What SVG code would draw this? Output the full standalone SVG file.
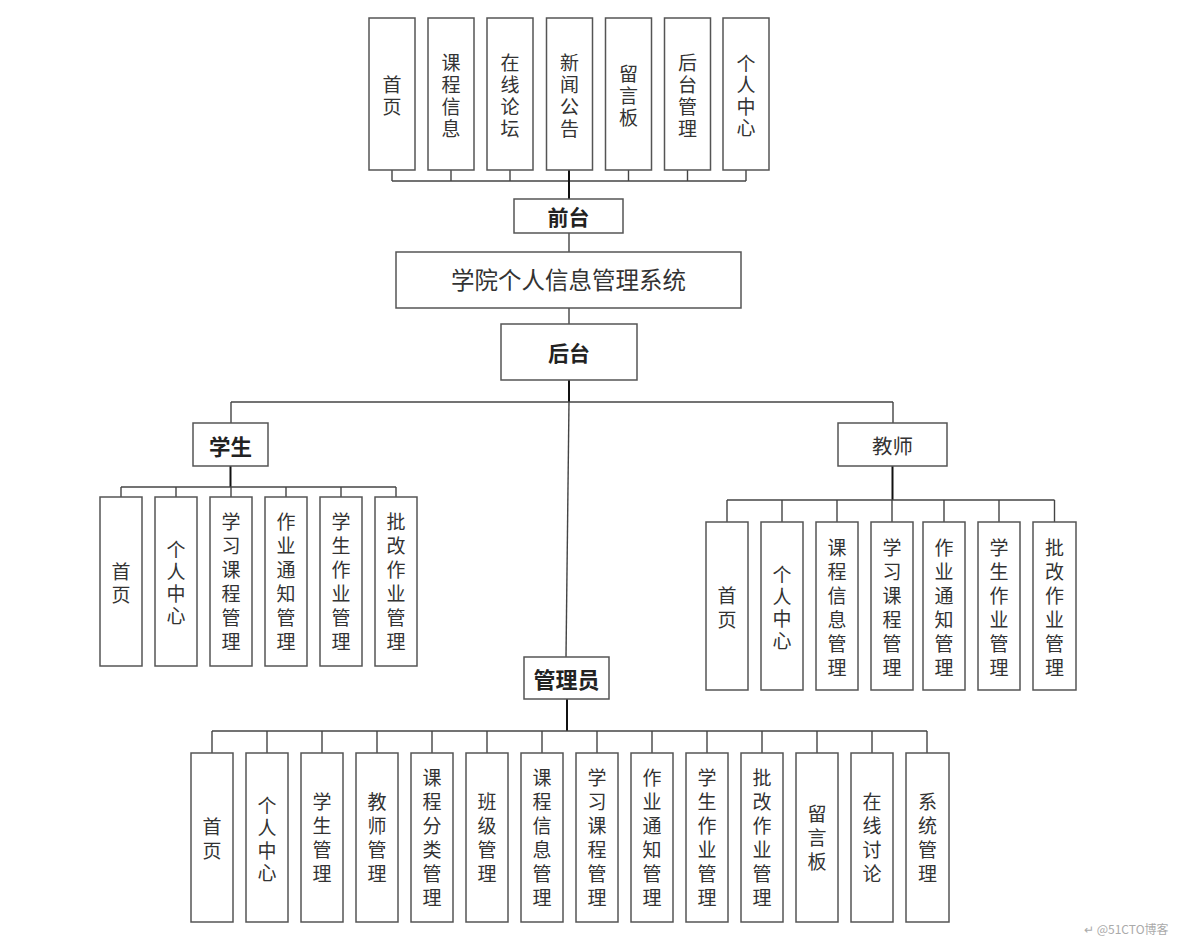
<svg xmlns="http://www.w3.org/2000/svg" width="1184" height="943" viewBox="0 0 1184 943">
<style>
.b{fill:#fff;stroke:#555;stroke-width:1.5}
.t{font-family:"Noto Sans CJK SC","Liberation Sans",sans-serif;fill:#333;text-anchor:middle;dominant-baseline:central}
.s18{font-size:19px}
.s19{font-size:19px}
.s20{font-size:20px}
.s21{font-size:21px}
.bold{font-weight:bold;fill:#222}
.c line{stroke:#444;stroke-width:1.4;fill:none}
.c .k{stroke:#111;stroke-width:2}
.wm{font-family:"Noto Sans CJK SC","Liberation Sans",sans-serif;font-size:12px;fill:#aaa}
</style>
<rect width="1184" height="943" fill="#fff"/>
<g class="c" id="connectors">
<line x1="392" y1="181" x2="746" y2="181"/>
<line x1="392" y1="170" x2="392" y2="181"/>
<line x1="451" y1="170" x2="451" y2="181"/>
<line x1="510" y1="170" x2="510" y2="181"/>
<line x1="628.5" y1="170" x2="628.5" y2="181"/>
<line x1="687.5" y1="170" x2="687.5" y2="181"/>
<line x1="746" y1="170" x2="746" y2="181"/>
<line class="k" x1="569" y1="170" x2="569" y2="199"/>
<line x1="569" y1="233" x2="569" y2="252"/>
<line x1="569" y1="308" x2="569" y2="324"/>
<line class="k" x1="569" y1="380" x2="569" y2="402"/>
<line x1="231" y1="402" x2="893" y2="402"/>
<line x1="231" y1="402" x2="231" y2="423"/>
<line x1="893" y1="402" x2="893" y2="423"/>
<line x1="569" y1="402" x2="566" y2="657"/>
<line class="k" x1="230.5" y1="466" x2="230.5" y2="487"/>
<line x1="121" y1="487" x2="396" y2="487"/>
<line x1="121" y1="487" x2="121" y2="497"/>
<line x1="176" y1="487" x2="176" y2="497"/>
<line x1="231" y1="487" x2="231" y2="497"/>
<line x1="286" y1="487" x2="286" y2="497"/>
<line x1="341" y1="487" x2="341" y2="497"/>
<line x1="396" y1="487" x2="396" y2="497"/>
<line class="k" x1="892.5" y1="466" x2="892.5" y2="500"/>
<line x1="727" y1="500" x2="1054.5" y2="500"/>
<line x1="727" y1="500" x2="727" y2="522"/>
<line x1="782" y1="500" x2="782" y2="522"/>
<line x1="837" y1="500" x2="837" y2="522"/>
<line x1="892" y1="500" x2="892" y2="522"/>
<line x1="944" y1="500" x2="944" y2="522"/>
<line x1="999" y1="500" x2="999" y2="522"/>
<line x1="1054.5" y1="500" x2="1054.5" y2="522"/>
<line class="k" x1="567" y1="699" x2="567" y2="731"/>
<line x1="212" y1="731" x2="927" y2="731"/>
<line x1="212" y1="731" x2="212" y2="753"/>
<line x1="267" y1="731" x2="267" y2="753"/>
<line x1="322" y1="731" x2="322" y2="753"/>
<line x1="377" y1="731" x2="377" y2="753"/>
<line x1="432" y1="731" x2="432" y2="753"/>
<line x1="487" y1="731" x2="487" y2="753"/>
<line x1="542" y1="731" x2="542" y2="753"/>
<line x1="597" y1="731" x2="597" y2="753"/>
<line x1="652" y1="731" x2="652" y2="753"/>
<line x1="707" y1="731" x2="707" y2="753"/>
<line x1="762" y1="731" x2="762" y2="753"/>
<line x1="817" y1="731" x2="817" y2="753"/>
<line x1="872" y1="731" x2="872" y2="753"/>
<line x1="927" y1="731" x2="927" y2="753"/>
</g>

<!-- Top front-end modules -->
<g id="f-home"><rect class="b" x="369" y="18" width="46" height="152"/><text class="t s18"><tspan x="392" y="83">首</tspan><tspan x="392" y="105">页</tspan></text></g>
<g id="f-course"><rect class="b" x="428" y="18" width="46" height="152"/><text class="t s18"><tspan x="451" y="61">课</tspan><tspan x="451" y="83">程</tspan><tspan x="451" y="105">信</tspan><tspan x="451" y="127">息</tspan></text></g>
<g id="f-forum"><rect class="b" x="487" y="18" width="46" height="152"/><text class="t s18"><tspan x="510" y="61">在</tspan><tspan x="510" y="83">线</tspan><tspan x="510" y="105">论</tspan><tspan x="510" y="127">坛</tspan></text></g>
<g id="f-news"><rect class="b" x="546.5" y="18" width="46" height="152"/><text class="t s18"><tspan x="569.5" y="61">新</tspan><tspan x="569.5" y="83">闻</tspan><tspan x="569.5" y="105">公</tspan><tspan x="569.5" y="127">告</tspan></text></g>
<g id="f-msg"><rect class="b" x="605.5" y="18" width="46" height="152"/><text class="t s18"><tspan x="628.5" y="72">留</tspan><tspan x="628.5" y="94">言</tspan><tspan x="628.5" y="116">板</tspan></text></g>
<g id="f-admin"><rect class="b" x="664.5" y="18" width="46" height="152"/><text class="t s18"><tspan x="687.5" y="61">后</tspan><tspan x="687.5" y="83">台</tspan><tspan x="687.5" y="105">管</tspan><tspan x="687.5" y="127">理</tspan></text></g>
<g id="f-center"><rect class="b" x="723" y="18" width="46" height="152"/><text class="t s18"><tspan x="746" y="62">个</tspan><tspan x="746" y="83">人</tspan><tspan x="746" y="105">中</tspan><tspan x="746" y="126">心</tspan></text></g>

<g id="frontend"><rect class="b" x="514" y="199" width="109" height="34"/><text class="t s21 bold" x="568.5" y="216">前台</text></g>
<g id="system"><rect class="b" x="396" y="252" width="345" height="56"/><text class="t" style="font-size:23.5px" x="568.5" y="279">学院个人信息管理系统</text></g>
<g id="backend"><rect class="b" x="501" y="324" width="136" height="56"/><text class="t s21 bold" x="569" y="352">后台</text></g>

<g id="student"><rect class="b" x="193" y="423" width="75" height="43"/><text class="t bold" style="font-size:21.5px" x="230.5" y="445">学生</text></g>
<g id="teacher"><rect class="b" x="838" y="423" width="109" height="43"/><text class="t" style="font-size:20.5px" x="892.5" y="445">教师</text></g>
<g id="admin"><rect class="b" x="524" y="657" width="85" height="42"/><text class="t bold" style="font-size:22px" x="566.5" y="678">管理员</text></g>

<!-- Student modules -->
<g id="s-home"><rect class="b" x="100" y="497" width="42" height="169"/><text class="t s19"><tspan x="121" y="570">首</tspan><tspan x="121" y="593">页</tspan></text></g>
<g id="s-center"><rect class="b" x="155" y="497" width="42" height="169"/><text class="t s19"><tspan x="176" y="548">个</tspan><tspan x="176" y="570">人</tspan><tspan x="176" y="592">中</tspan><tspan x="176" y="614">心</tspan></text></g>
<g id="s-study"><rect class="b" x="210" y="497" width="42" height="169"/><text class="t s19"><tspan x="231" y="520">学</tspan><tspan x="231" y="544">习</tspan><tspan x="231" y="568">课</tspan><tspan x="231" y="592">程</tspan><tspan x="231" y="616">管</tspan><tspan x="231" y="640">理</tspan></text></g>
<g id="s-notice"><rect class="b" x="265" y="497" width="42" height="169"/><text class="t s19"><tspan x="286" y="520">作</tspan><tspan x="286" y="544">业</tspan><tspan x="286" y="568">通</tspan><tspan x="286" y="592">知</tspan><tspan x="286" y="616">管</tspan><tspan x="286" y="640">理</tspan></text></g>
<g id="s-hw"><rect class="b" x="320" y="497" width="42" height="169"/><text class="t s19"><tspan x="341" y="520">学</tspan><tspan x="341" y="544">生</tspan><tspan x="341" y="568">作</tspan><tspan x="341" y="592">业</tspan><tspan x="341" y="616">管</tspan><tspan x="341" y="640">理</tspan></text></g>
<g id="s-grade"><rect class="b" x="375" y="497" width="42" height="169"/><text class="t s19"><tspan x="396" y="520">批</tspan><tspan x="396" y="544">改</tspan><tspan x="396" y="568">作</tspan><tspan x="396" y="592">业</tspan><tspan x="396" y="616">管</tspan><tspan x="396" y="640">理</tspan></text></g>

<!-- Teacher modules -->
<g id="t-home"><rect class="b" x="706" y="522" width="42" height="168"/><text class="t s19"><tspan x="727" y="594">首</tspan><tspan x="727" y="618">页</tspan></text></g>
<g id="t-center"><rect class="b" x="761" y="522" width="42" height="168"/><text class="t s19"><tspan x="782" y="573">个</tspan><tspan x="782" y="595">人</tspan><tspan x="782" y="617">中</tspan><tspan x="782" y="639">心</tspan></text></g>
<g id="t-course"><rect class="b" x="816" y="522" width="42" height="168"/><text class="t s19"><tspan x="837" y="546">课</tspan><tspan x="837" y="570">程</tspan><tspan x="837" y="594">信</tspan><tspan x="837" y="618">息</tspan><tspan x="837" y="642">管</tspan><tspan x="837" y="666">理</tspan></text></g>
<g id="t-study"><rect class="b" x="871" y="522" width="42" height="168"/><text class="t s19"><tspan x="892" y="546">学</tspan><tspan x="892" y="570">习</tspan><tspan x="892" y="594">课</tspan><tspan x="892" y="618">程</tspan><tspan x="892" y="642">管</tspan><tspan x="892" y="666">理</tspan></text></g>
<g id="t-notice"><rect class="b" x="923" y="522" width="42" height="168"/><text class="t s19"><tspan x="944" y="546">作</tspan><tspan x="944" y="570">业</tspan><tspan x="944" y="594">通</tspan><tspan x="944" y="618">知</tspan><tspan x="944" y="642">管</tspan><tspan x="944" y="666">理</tspan></text></g>
<g id="t-hw"><rect class="b" x="978" y="522" width="42" height="168"/><text class="t s19"><tspan x="999" y="546">学</tspan><tspan x="999" y="570">生</tspan><tspan x="999" y="594">作</tspan><tspan x="999" y="618">业</tspan><tspan x="999" y="642">管</tspan><tspan x="999" y="666">理</tspan></text></g>
<g id="t-grade"><rect class="b" x="1033" y="522" width="43" height="168"/><text class="t s19"><tspan x="1054.5" y="546">批</tspan><tspan x="1054.5" y="570">改</tspan><tspan x="1054.5" y="594">作</tspan><tspan x="1054.5" y="618">业</tspan><tspan x="1054.5" y="642">管</tspan><tspan x="1054.5" y="666">理</tspan></text></g>

<!-- Admin modules -->
<g id="a-home"><rect class="b" x="191" y="753" width="42" height="169"/><text class="t s19"><tspan x="212" y="825">首</tspan><tspan x="212" y="849">页</tspan></text></g>
<g id="a-center"><rect class="b" x="246" y="753" width="42" height="169"/><text class="t s19"><tspan x="267" y="804">个</tspan><tspan x="267" y="826">人</tspan><tspan x="267" y="849">中</tspan><tspan x="267" y="871">心</tspan></text></g>
<g id="a-student"><rect class="b" x="301" y="753" width="42" height="169"/><text class="t s19"><tspan x="322" y="800">学</tspan><tspan x="322" y="824">生</tspan><tspan x="322" y="848">管</tspan><tspan x="322" y="872">理</tspan></text></g>
<g id="a-teacher"><rect class="b" x="356" y="753" width="42" height="169"/><text class="t s19"><tspan x="377" y="800">教</tspan><tspan x="377" y="824">师</tspan><tspan x="377" y="848">管</tspan><tspan x="377" y="872">理</tspan></text></g>
<g id="a-category"><rect class="b" x="411" y="753" width="42" height="169"/><text class="t s19"><tspan x="432" y="776">课</tspan><tspan x="432" y="800">程</tspan><tspan x="432" y="824">分</tspan><tspan x="432" y="848">类</tspan><tspan x="432" y="872">管</tspan><tspan x="432" y="896">理</tspan></text></g>
<g id="a-class"><rect class="b" x="466" y="753" width="42" height="169"/><text class="t s19"><tspan x="487" y="800">班</tspan><tspan x="487" y="824">级</tspan><tspan x="487" y="848">管</tspan><tspan x="487" y="872">理</tspan></text></g>
<g id="a-course"><rect class="b" x="521" y="753" width="42" height="169"/><text class="t s19"><tspan x="542" y="776">课</tspan><tspan x="542" y="800">程</tspan><tspan x="542" y="824">信</tspan><tspan x="542" y="848">息</tspan><tspan x="542" y="872">管</tspan><tspan x="542" y="896">理</tspan></text></g>
<g id="a-study"><rect class="b" x="576" y="753" width="42" height="169"/><text class="t s19"><tspan x="597" y="776">学</tspan><tspan x="597" y="800">习</tspan><tspan x="597" y="824">课</tspan><tspan x="597" y="848">程</tspan><tspan x="597" y="872">管</tspan><tspan x="597" y="896">理</tspan></text></g>
<g id="a-notice"><rect class="b" x="631" y="753" width="42" height="169"/><text class="t s19"><tspan x="652" y="776">作</tspan><tspan x="652" y="800">业</tspan><tspan x="652" y="824">通</tspan><tspan x="652" y="848">知</tspan><tspan x="652" y="872">管</tspan><tspan x="652" y="896">理</tspan></text></g>
<g id="a-hw"><rect class="b" x="686" y="753" width="42" height="169"/><text class="t s19"><tspan x="707" y="776">学</tspan><tspan x="707" y="800">生</tspan><tspan x="707" y="824">作</tspan><tspan x="707" y="848">业</tspan><tspan x="707" y="872">管</tspan><tspan x="707" y="896">理</tspan></text></g>
<g id="a-grade"><rect class="b" x="741" y="753" width="42" height="169"/><text class="t s19"><tspan x="762" y="776">批</tspan><tspan x="762" y="800">改</tspan><tspan x="762" y="824">作</tspan><tspan x="762" y="848">业</tspan><tspan x="762" y="872">管</tspan><tspan x="762" y="896">理</tspan></text></g>
<g id="a-msg"><rect class="b" x="796" y="753" width="42" height="169"/><text class="t s19"><tspan x="817" y="812">留</tspan><tspan x="817" y="836">言</tspan><tspan x="817" y="860">板</tspan></text></g>
<g id="a-discuss"><rect class="b" x="851" y="753" width="42" height="169"/><text class="t s19"><tspan x="872" y="800">在</tspan><tspan x="872" y="824">线</tspan><tspan x="872" y="848">讨</tspan><tspan x="872" y="872">论</tspan></text></g>
<g id="a-system"><rect class="b" x="906" y="753" width="43" height="169"/><text class="t s19"><tspan x="927.5" y="800">系</tspan><tspan x="927.5" y="824">统</tspan><tspan x="927.5" y="848">管</tspan><tspan x="927.5" y="872">理</tspan></text></g>

<text class="wm" x="1084" y="934">↵ @51CTO博客</text>
</svg>
